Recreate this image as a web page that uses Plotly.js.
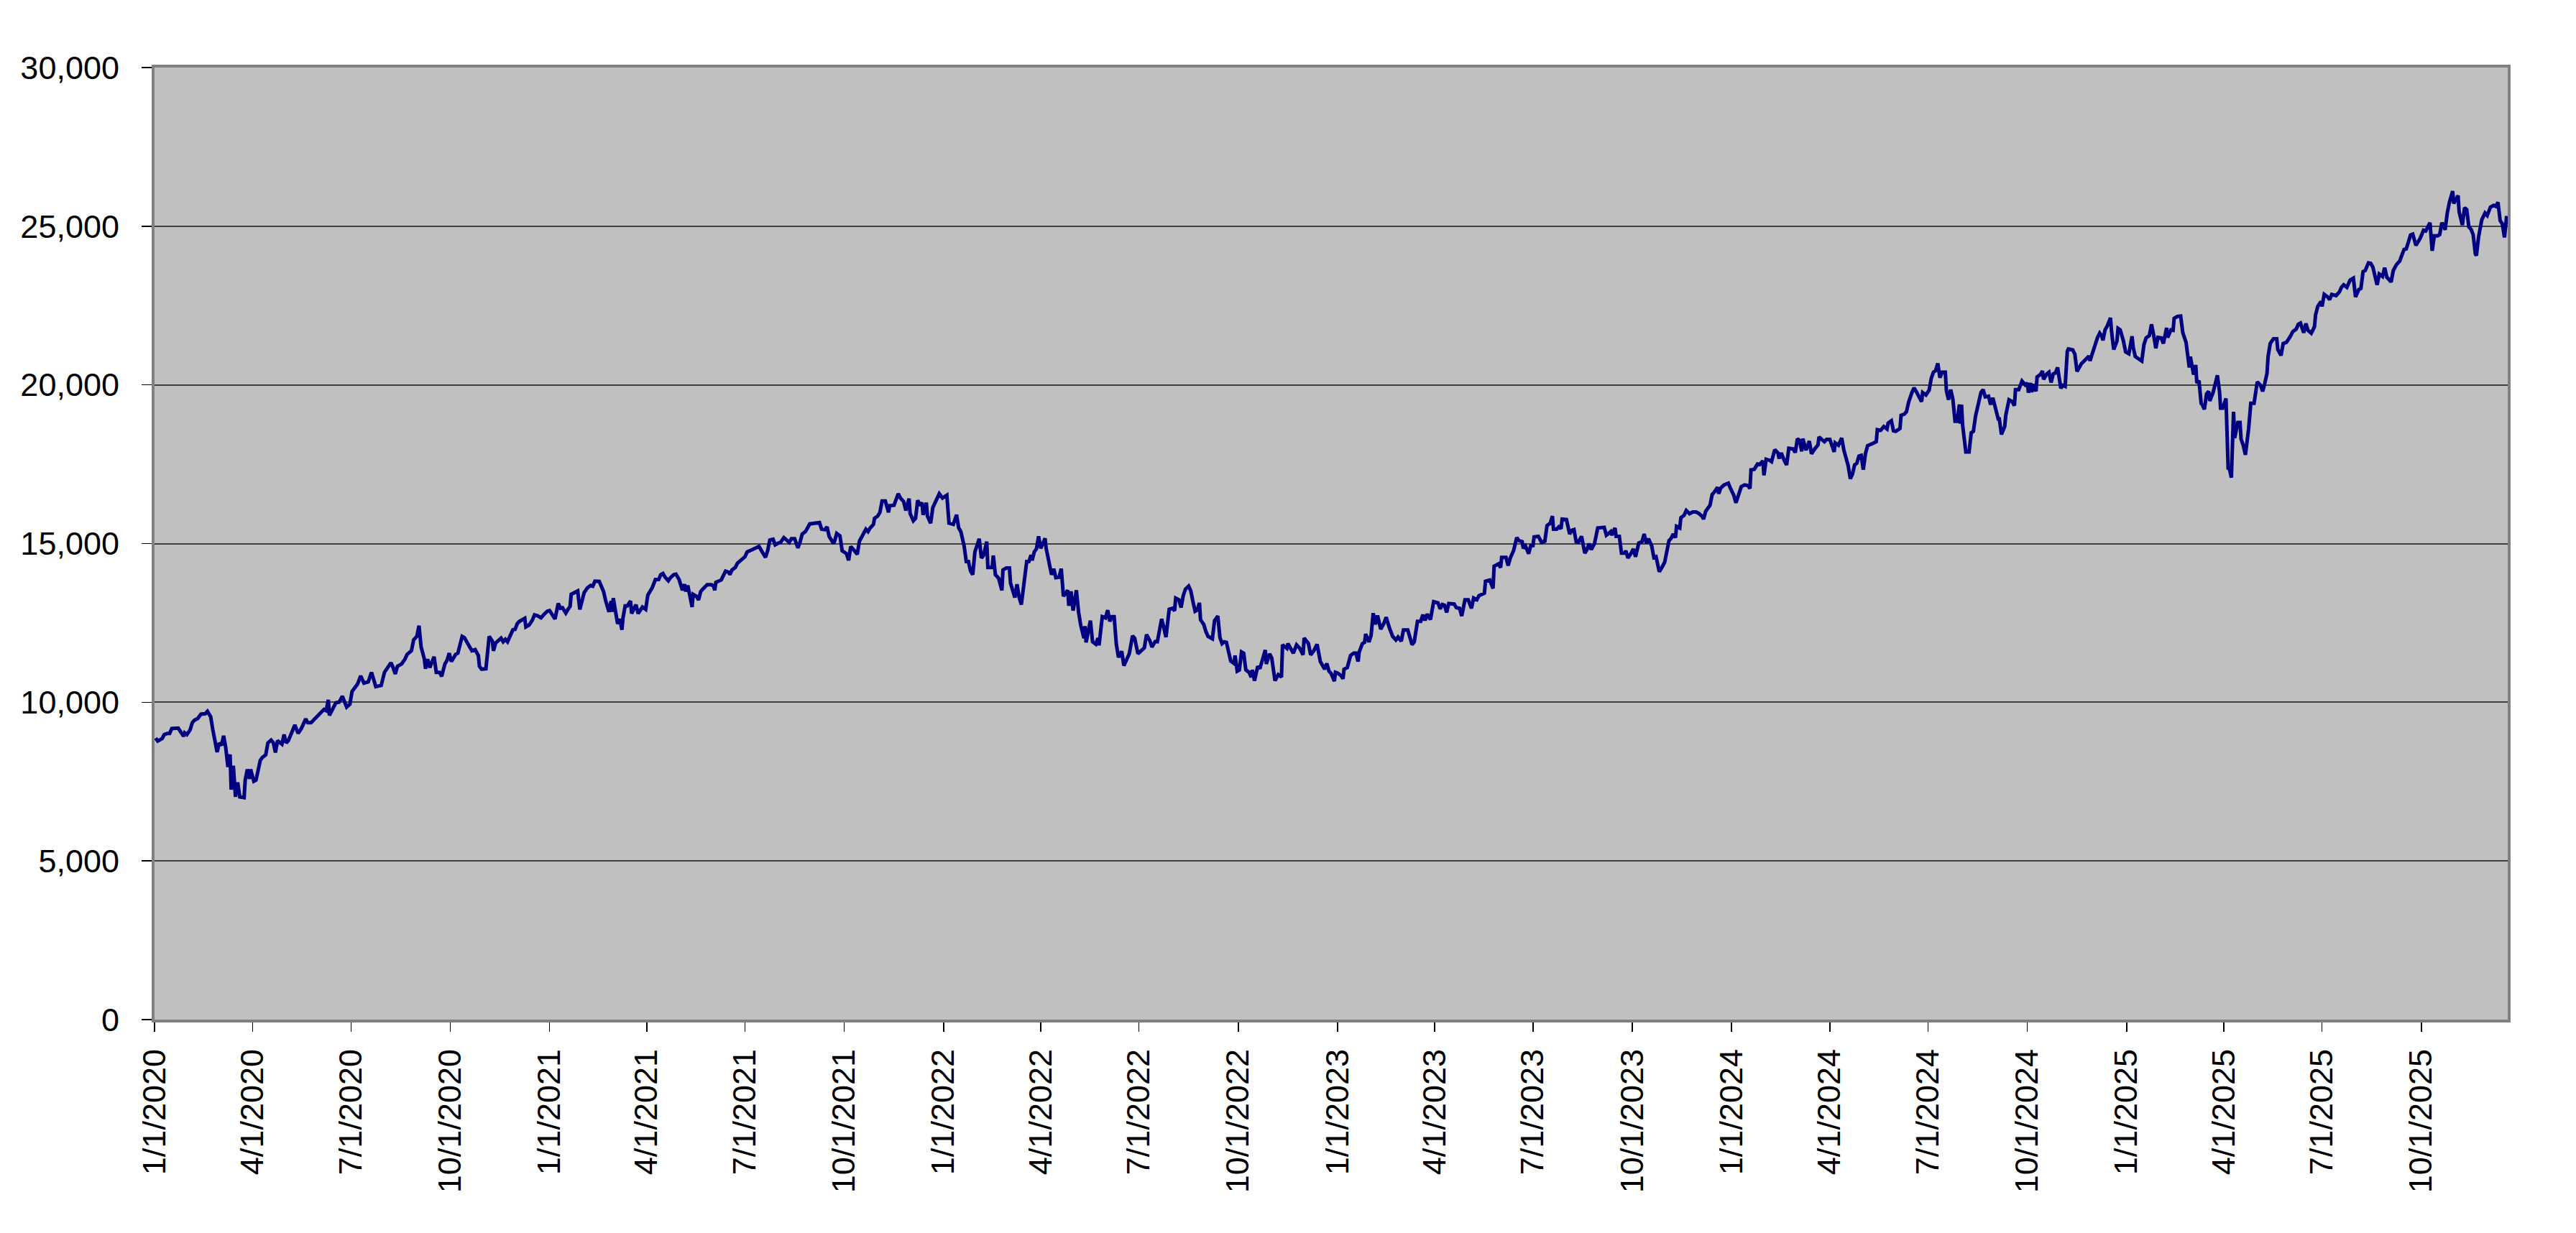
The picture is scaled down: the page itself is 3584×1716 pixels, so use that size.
<!DOCTYPE html>
<html><head><meta charset="utf-8">
<script src="https://cdn.plot.ly/plotly-3.0.1.min.js"></script>
<style>html,body{margin:0;padding:0;background:#fff;}#chart{width:3584px;height:1716px;}</style>
</head><body><div id="chart"></div>
<script>
// Month-day labels and values, one pair of arrays per year
const md2020 = ["01-02","01-04","01-08","01-10","01-13","01-15","01-17","01-21","01-23","01-25","01-28","01-29","01-31","02-03","02-05","02-07","02-10","02-13","02-17","02-19","02-22","02-24","02-26","02-28","03-01","03-03","03-05","03-07","03-09","03-11","03-12","03-14","03-16","03-18","03-20","03-24","03-25","03-27","03-29","03-30","04-02","04-04","04-08","04-10","04-13","04-15","04-18","04-20","04-22","04-24","04-26","04-28","04-30","05-02","05-04","05-08","05-10","05-13","05-16","05-20","05-22","05-25","05-29","06-02","06-06","06-08","06-10","06-11","06-14","06-17","06-20","06-23","06-27","06-30","07-02","07-07","07-10","07-13","07-17","07-20","07-24","07-27","07-29","08-01","08-03","08-07","08-09","08-11","08-13","08-17","08-20","08-22","08-26","08-28","08-31","09-02","09-04","09-07","09-08","09-10","09-12","09-16","09-18","09-21","09-23","09-26","09-28","09-30","10-02","10-06","10-08","10-12","10-14","10-18","10-21","10-24","10-27","10-28","10-30","11-03","11-06","11-09","11-10","11-12","11-15","11-17","11-19","11-21","11-23","11-26","11-28","11-30","12-02","12-04","12-09","12-10","12-13","12-16","12-18","12-21","12-24","12-27","12-30"];
const val2020 = [8868,8777,8853,8981,9019,9019,9170,9185,9185,9079,8928,9034,8981,9132,9358,9434,9487,9623,9638,9713,9547,9132,8830,8430,8717,8641,8943,8566,7962,8355,7245,8000,7019,7472,7019,6996,7547,7887,7585,7887,7509,7547,8174,8264,8340,8717,8808,8732,8415,8792,8732,8679,8981,8717,8792,9170,9283,9019,9170,9472,9358,9358,9509,9623,9774,9736,10075,9585,9774,9985,10000,10189,9849,9940,10340,10566,10830,10604,10642,10943,10491,10528,10528,10943,11057,11245,11094,10891,11132,11208,11358,11509,11623,11962,12075,12415,11736,11358,11057,11358,11094,11434,10943,10943,10815,11208,11321,11547,11283,11509,11547,12075,12038,11774,11623,11660,11472,11132,11041,11057,12075,11925,11619,11868,11981,12019,11906,11981,11906,12170,12283,12298,12472,12547,12645,12374,12434,12585,12751,12721,12660,12774,12872];

const md2021 = ["01-01","01-03","01-06","01-09","01-11","01-13","01-16","01-18","01-20","01-21","01-25","01-27","01-29","01-31","02-02","02-05","02-08","02-10","02-12","02-16","02-18","02-20","02-22","02-25","02-27","02-28","03-01","03-03","03-05","03-07","03-09","03-10","03-12","03-14","03-17","03-18","03-20","03-22","03-24","03-28","03-31","04-02","04-06","04-09","04-12","04-14","04-16","04-18","04-21","04-23","04-26","04-28","05-01","05-04","05-06","05-07","05-09","05-11","05-13","05-14","05-17","05-19","05-21","05-23","05-27","05-31","06-02","06-03","06-04","06-09","06-11","06-13","06-16","06-17","06-19","06-22","06-24","06-28","07-01","07-03","07-08","07-11","07-14","07-17","07-20","07-22","07-24","07-27","07-29","08-01","08-03","08-06","08-09","08-11","08-13","08-16","08-19","08-21","08-23","08-26","08-30","09-03","09-08","09-10","09-13","09-15","09-17","09-21","09-22","09-24","09-27","09-29","10-01","10-03","10-05","10-07","10-10","10-13","10-15","10-18","10-21","10-23","10-25","10-28","10-29","11-01","11-03","11-05","11-08","11-11","11-12","11-16","11-18","11-20","11-22","11-25","11-27","11-30","12-01","12-04","12-06","12-08","12-10","12-12","12-13","12-16","12-17","12-20","12-22","12-25","12-28","12-31"];
const val2021 = [12887,12774,12623,13113,12962,12977,12811,12925,13023,13400,13491,13506,12925,13189,13453,13604,13679,13657,13815,13808,13679,13491,13189,12849,13189,12849,13279,12811,12472,12623,12283,12660,13038,13038,13189,12796,12962,13075,12796,13000,12925,13377,13604,13868,13868,14019,14057,13943,13830,13928,14019,14034,13868,13528,13717,13491,13679,13302,13000,13400,13340,13226,13491,13566,13702,13702,13657,13528,13777,13853,14019,14132,14094,14019,14170,14245,14381,14509,14585,14736,14811,14864,14909,14736,14562,14774,15113,15136,14962,15015,15038,15189,15113,15038,15151,15151,14864,15038,15302,15377,15619,15642,15664,15453,15438,15528,15226,15000,15075,15317,15242,14774,14736,14683,14472,14909,14789,14660,15075,15264,15453,15377,15491,15604,15792,15868,15981,16343,16343,15981,16192,16208,16396,16570,16434,16321,16042,16419,15943,15717,15792,16366,16200,16290,15906,16290,15868,15642,16132,16374,16570,16434];

const md2022 = ["01-04","01-06","01-10","01-13","01-15","01-17","01-20","01-22","01-24","01-26","01-28","01-30","02-03","02-05","02-07","02-10","02-11","02-15","02-16","02-18","02-21","02-24","02-25","02-28","03-03","03-04","03-08","03-10","03-12","03-14","03-17","03-19","03-21","03-23","03-24","03-26","03-28","03-30","04-01","04-02","04-05","04-06","04-08","04-11","04-13","04-15","04-18","04-20","04-22","04-26","04-27","04-29","05-01","05-02","05-04","05-06","05-08","05-11","05-12","05-13","05-16","05-17","05-19","05-22","05-24","05-25","05-28","05-31","06-02","06-04","06-06","06-08","06-10","06-12","06-15","06-17","06-20","06-22","06-25","06-27","06-30","07-03","07-06","07-08","07-11","07-13","07-16","07-18","07-22","07-24","07-26","07-29","08-01","08-03","08-04","08-07","08-09","08-11","08-13","08-16","08-18","08-20","08-22","08-24","08-26","08-27","08-30","09-01","09-03","09-07","09-09","09-12","09-14","09-16","09-18","09-20","09-24","09-27","09-28","09-30","10-02","10-04","10-06","10-08","10-11","10-13","10-14","10-16","10-19","10-21","10-23","10-26","10-27","10-30","11-01","11-04","11-07","11-10","11-11","11-15","11-16","11-19","11-21","11-24","11-27","11-30","12-01","12-05","12-07","12-10","12-13","12-16","12-18","12-20","12-22","12-24","12-26","12-29","12-30"];
const val2022 = [16525,15642,15604,15906,15491,15377,14925,14434,14434,14132,14019,14736,15151,14547,14623,15060,14245,14245,14623,14019,13906,13528,14170,14230,14230,13755,13302,13717,13302,13075,13943,14434,14434,14638,14472,14736,14834,15226,14849,14925,15166,14849,14487,14019,14208,13928,13943,14208,13340,13528,13038,13491,12887,13113,13528,12849,12434,12019,12396,11887,12396,12570,11906,11830,12019,11792,12698,12660,12902,12547,12698,12698,11830,11415,11604,11151,11377,11528,12094,12019,11528,11642,11717,12132,11943,11740,11913,11906,12623,12358,12053,12928,12958,12883,13283,13230,12981,13358,13562,13660,13509,13170,12868,12906,13132,12604,12453,12226,12075,12000,12566,12717,12038,11849,11906,11887,11298,11223,11472,10981,11019,11585,11547,11019,10943,10792,11019,10679,11132,11057,11298,11645,11208,11525,11396,10679,10868,10792,11811,11698,11849,11675,11547,11811,11698,11494,12023,11849,11494,11623,11826,11283,11132,11042,11223,10981,10906,10664,10943];

const md2023 = ["01-01","01-04","01-06","01-07","01-10","01-13","01-16","01-18","01-20","01-21","01-24","01-26","01-27","01-30","02-01","02-03","02-05","02-07","02-10","02-13","02-15","02-18","02-21","02-24","02-26","03-01","03-03","03-07","03-09","03-11","03-13","03-16","03-19","03-21","03-23","03-25","03-28","03-31","04-04","04-06","04-08","04-10","04-12","04-14","04-19","04-21","04-24","04-26","04-29","05-02","05-05","05-07","05-10","05-12","05-17","05-18","05-22","05-25","05-26","05-30","06-01","06-02","06-06","06-08","06-10","06-13","06-16","06-18","06-21","06-22","06-24","06-27","06-29","07-01","07-02","07-06","07-09","07-12","07-14","07-17","07-19","07-20","07-23","07-25","07-27","07-28","08-01","08-02","08-04","08-06","08-08","08-10","08-12","08-15","08-17","08-18","08-20","08-22","08-24","08-27","08-30","09-02","09-05","09-07","09-09","09-11","09-12","09-15","09-16","09-19","09-21","09-24","09-25","09-27","09-30","10-02","10-04","10-07","10-10","10-12","10-14","10-16","10-19","10-21","10-23","10-26","10-29","10-31","11-04","11-06","11-08","11-10","11-11","11-14","11-15","11-18","11-20","11-23","11-26","11-29","12-02","12-05","12-06","12-08","12-12","12-14","12-16","12-19","12-20","12-22","12-25","12-29","12-31"];
const val2023 = [10921,10845,10740,11042,11094,11472,11547,11547,11283,11585,11849,11887,12151,11902,12098,12807,12453,12732,12302,12491,12679,12340,12075,11962,12053,11924,12279,12279,12053,11811,11902,12551,12551,12755,12581,12777,12604,13170,13132,12943,13079,13057,12830,13109,13094,12981,12958,12717,13230,13230,12958,13283,13230,13358,13434,13811,13849,13585,14287,14358,14245,14562,14562,14306,14547,14774,15189,15091,15060,14849,14925,14683,14940,14940,15211,15226,15038,15075,15566,15642,15868,15453,15453,15528,15468,15770,15755,15566,15302,15415,15438,15060,15038,15226,14774,14698,14811,15000,14811,15000,15491,15513,15513,15264,15340,15377,15264,15491,15226,15226,14698,14698,14774,14547,14698,14834,14585,15015,15060,15302,15015,15151,14925,14562,14585,14109,14283,14411,15091,15166,15302,15189,15543,15491,15815,15891,16042,15943,15996,15996,15943,15845,15770,16019,16208,16547,16623,16774,16570,16751,16849,16902,16736];

const md2024 = ["01-03","01-05","01-07","01-10","01-13","01-16","01-18","01-19","01-22","01-25","01-27","01-30","01-31","02-02","02-05","02-07","02-10","02-13","02-14","02-16","02-19","02-21","02-23","02-27","02-29","03-02","03-04","03-06","03-07","03-10","03-13","03-15","03-18","03-21","03-22","03-27","03-29","04-01","04-05","04-06","04-09","04-12","04-14","04-16","04-18","04-20","04-22","04-24","04-26","04-28","04-30","05-02","05-04","05-06","05-09","05-11","05-14","05-15","05-18","05-21","05-24","05-25","05-28","05-30","06-01","06-05","06-06","06-09","06-11","06-13","06-16","06-18","06-20","06-23","06-25","06-26","06-29","07-02","07-04","07-06","07-08","07-10","07-12","07-14","07-17","07-18","07-20","07-22","07-24","07-26","07-28","07-30","07-31","08-01","08-02","08-05","08-08","08-10","08-12","08-14","08-17","08-19","08-21","08-23","08-26","08-28","08-30","09-01","09-04","09-05","09-07","09-10","09-11","09-14","09-17","09-19","09-20","09-23","09-24","09-26","09-29","10-01","10-02","10-04","10-05","10-07","10-09","10-10","10-13","10-15","10-16","10-19","10-21","10-23","10-25","10-27","10-29","10-30","11-01","11-03","11-05","11-07","11-08","11-12","11-14","11-16","11-18","11-20","11-24","11-27","11-28","11-30","12-03","12-05","12-07","12-09","12-10","12-12","12-14","12-17","12-18","12-20","12-23","12-24","12-26","12-29","12-31"];
const val2024 = [16525,16283,16509,16796,16849,16826,16736,17325,17340,17506,17491,17604,17151,17657,17627,17581,17958,17853,17679,17853,17604,17475,18004,17981,17868,18306,18245,17906,18306,17943,18230,17830,17981,18109,18358,18208,18283,18283,17887,18174,18098,18325,17947,17706,17457,17042,17192,17479,17532,17759,17781,17328,17834,18083,18113,18158,18211,18589,18566,18687,18611,18792,18868,18551,18536,18626,19042,19079,19155,19457,19758,19909,19796,19592,19472,19758,19683,19834,20211,20400,20453,20679,20226,20400,20400,19819,19532,19849,19547,18853,18853,19381,18777,19381,18740,17887,17887,18491,18536,19019,19532,19758,19849,19623,19645,19381,19592,19291,18928,18928,18438,18687,19042,19532,19472,19343,19849,19849,19970,20121,20000,20060,19758,20060,19774,20023,19796,20249,20325,20438,20174,20347,20400,20075,20347,20377,20551,20325,19894,19985,19955,21057,21132,21102,20966,20423,20528,20664,20800,20906,20755,20981,21268,21494,21630,21532,21404,21736,21857,22113,21683,21117,21381,21781,21736,21381,21042];

const md2025 = ["01-03","01-06","01-07","01-09","01-12","01-15","01-17","01-19","01-22","01-24","01-26","01-28","01-30","02-02","02-04","02-07","02-08","02-11","02-13","02-14","02-17","02-20","02-22","02-25","02-26","02-28","03-01","03-03","03-04","03-06","03-07","03-09","03-11","03-12","03-14","03-16","03-18","03-19","03-22","03-24","03-26","03-28","03-29","03-31","04-03","04-05","04-06","04-08","04-10","04-11","04-14","04-16","04-17","04-19","04-21","04-24","04-26","04-29","05-02","05-05","05-07","05-09","05-11","05-12","05-14","05-17","05-20","05-21","05-24","05-26","05-29","06-01","06-04","06-07","06-09","06-11","06-14","06-16","06-18","06-21","06-24","06-25","06-27","06-30","07-01","07-03","07-06","07-08","07-10","07-14","07-17","07-19","07-21","07-24","07-27","07-30","08-01","08-04","08-06","08-08","08-10","08-13","08-15","08-17","08-19","08-21","08-23","08-26","08-28","08-30","09-03","09-05","09-08","09-11","09-13","09-15","09-17","09-19","09-21","09-23","09-26","09-28","09-30","10-03","10-05","10-07","10-09","10-11","10-13","10-16","10-18","10-20","10-23","10-25","10-27","10-30","10-31","11-04","11-05","11-08","11-10","11-12","11-14","11-16","11-18","11-20","11-21","11-23","11-26","11-29","12-01","12-04","12-07","12-09","12-11","12-13","12-15","12-17","12-19"];
const val2025 = [20981,21532,21192,20891,20815,20755,21268,21479,21555,21909,21570,21155,21494,21479,21306,21796,21493,21734,21719,22096,22157,22172,21644,21342,21078,20550,20890,20550,20324,20626,20060,20136,19419,19381,19231,19721,19796,19494,19758,20022,20301,19796,19268,19268,19570,17383,17383,17081,19155,18325,18815,18815,18288,18099,17797,18627,19419,19419,20098,19985,19796,20060,20362,20890,21304,21455,21455,21116,20928,21304,21342,21493,21681,21757,21908,21946,21644,21931,21719,21629,21833,22209,22473,22624,22473,22851,22775,22685,22851,22813,22926,23077,23153,23077,23303,23363,22775,23001,23039,23567,23605,23846,23831,23718,23454,23153,23492,23416,23695,23394,23243,23605,23793,23906,24095,24268,24284,24525,24721,24751,24397,24510,24623,24872,24849,24977,25113,24223,24698,24698,24736,25113,24887,25415,25754,26109,25717,25966,25453,25038,25581,25528,24977,24902,24736,24133,24072,24661,25204,25415,25340,25603,25656,25626,25754,25173,25075,24646,25324];

const years = [2020, 2021, 2022, 2023, 2024, 2025];
const monthDays = [md2020, md2021, md2022, md2023, md2024, md2025];
const yearValues = [val2020, val2021, val2022, val2023, val2024, val2025];

const yTicks = [0, 5000, 10000, 15000, 20000, 25000, 30000];
const xStart = "2020-01-01";
const xEnd = "2025-12-20";

const dates = [];
const values = [];
years.forEach((yr, i) => {
  monthDays[i].forEach((md, j) => { dates.push(yr + "-" + md); values.push(yearValues[i][j]); });
});

const trace = {
  type: "scatter", mode: "lines", x: dates, y: values,
  line: {color: "#000080", width: 5}, hoverinfo: "skip"
};

const layout = {
  width: 3584, height: 1716,
  margin: {l: 215, r: 95, t: 94, b: 297, pad: 0},
  paper_bgcolor: "#ffffff", plot_bgcolor: "#c0c0c0",
  showlegend: false,
  font: {family: "Liberation Sans, Arial, sans-serif", size: 45, color: "#000000"},
  xaxis: {
    type: "date", range: [xStart, xEnd], tick0: "2020-01-01", dtick: "M3",
    tickformat: "%-m/%-d/%Y", tickangle: -90,
    ticks: "outside", ticklen: 13, tickwidth: 1.5, tickcolor: "#000000",
    ticklabelstandoff: 6,
    showgrid: false, zeroline: false,
    showline: true, linecolor: "#808080", linewidth: 4, mirror: true
  },
  yaxis: {
    range: [0, 30000], tickvals: yTicks, tickformat: ",d",
    ticks: "outside", ticklen: 14, tickwidth: 1.5, tickcolor: "#000000",
    ticklabelstandoff: 22,
    showgrid: true, gridcolor: "#404040", gridwidth: 2, zeroline: false,
    showline: true, linecolor: "#808080", linewidth: 4, mirror: true
  }
};

Plotly.newPlot("chart", [trace], layout, {staticPlot: true, displayModeBar: false});
</script>
</body></html>
